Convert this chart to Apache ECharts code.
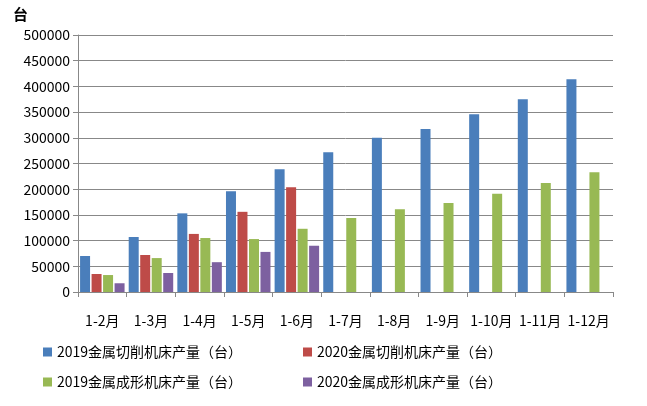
<!DOCTYPE html><html><head><meta charset="utf-8"><script src="https://cdn.jsdelivr.net/npm/echarts@6/dist/echarts.min.js"></script></head><body style="margin:0"><div id="c" style="width:647px;height:406px"></div><script>
const categories=['1-2月','1-3月','1-4月','1-5月','1-6月','1-7月','1-8月','1-9月','1-10月','1-11月','1-12月'];
const cut2019=[70000,107000,153000,196000,239000,272000,300000,317000,346000,375000,414000];
const cut2020=[35000,72000,113000,156000,204000,null,null,null,null,null,null];
const form2019=[33000,66000,105000,103000,123000,144000,161000,173000,191000,212000,233000];
const form2020=[17000,37000,58000,78000,90000,null,null,null,null,null,null];
const names=['2019金属切削机床产量（台）','2020金属切削机床产量（台）','2019金属成形机床产量（台）','2020金属成形机床产量（台）'];
const colors=['#4a7ebb','#be4b48','#98b954','#7d60a0'];
const f='"Noto Sans CJK SC",sans-serif';
const lg=(n,l,t)=>({data:[n],left:l,top:t,itemWidth:9,itemHeight:9,icon:'rect',textStyle:{fontSize:14,fontFamily:f,color:'#000'}});
const ch=echarts.init(document.getElementById('c'));
ch.setOption({animation:false,color:colors,
title:{text:'台',left:8,top:2,textStyle:{fontSize:15,fontWeight:'bold',fontFamily:f,color:'#000'}},
grid:{left:78,right:34,top:35,bottom:114},
legend:[lg(names[0],38,340),lg(names[1],298,340),lg(names[2],38,370),lg(names[3],298,370)],
xAxis:{type:'category',data:categories,axisLine:{lineStyle:{color:'#888'}},axisTick:{show:true,length:5,lineStyle:{color:'#888'}},axisLabel:{fontSize:14,fontFamily:f,color:'#000',margin:22,interval:0}},
yAxis:{type:'value',min:0,max:500000,interval:50000,axisLine:{show:true,lineStyle:{color:'#888'}},axisTick:{show:true,lineStyle:{color:'#888'}},axisLabel:{fontSize:14,fontFamily:f,color:'#000',formatter:v=>String(v)},splitLine:{lineStyle:{color:'#888'}}},
series:[cut2019,cut2020,form2019,form2020].map((d,i)=>({name:names[i],type:'bar',data:d,barWidth:10,barGap:'15%'}))
});
</script></body></html>
